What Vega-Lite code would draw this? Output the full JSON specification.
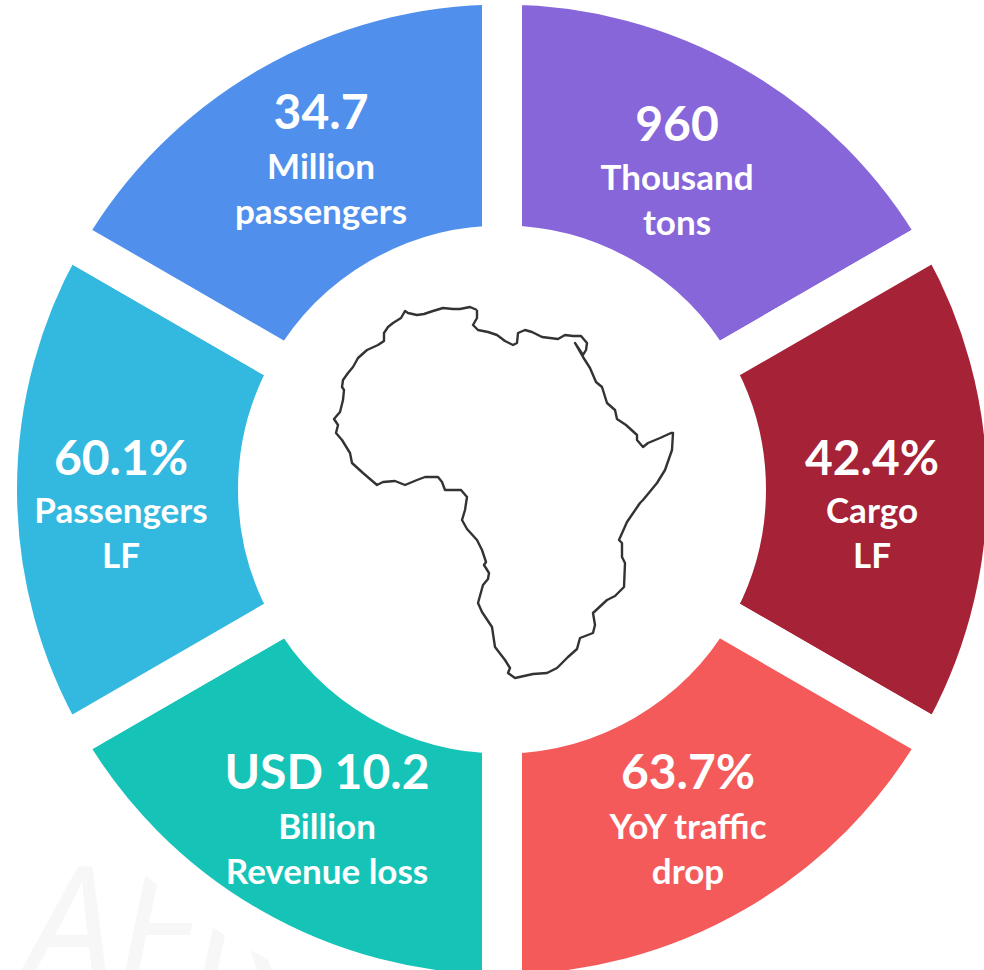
{
"$schema":"https://vega.github.io/schema/vega-lite/v6.json",
"width":984,"height":970,"padding":0,"autosize":{"type":"none"},
"background":"white",
"view":{"stroke":null},
"config":{"style":{"cell":{"stroke":null}}},
"resolve":{"scale":{"x":"independent","y":"independent"}},
"layer":[
{"data":{"values":[{"mark":"AFRAA"}]},
 "mark":{"type":"text","font":"Open Sans","fontStyle":"italic","fontSize":165,"color":"#f7f7f7","align":"center","baseline":"alphabetic"},
 "encoding":{"text":{"field":"mark"},"x":{"value":248},"y":{"value":985}}},
{"data":{"values":[
 {"n":1,"sector":"Cargo tons","share":1},
 {"n":2,"sector":"Cargo LF","share":1},
 {"n":3,"sector":"Traffic drop","share":1},
 {"n":4,"sector":"Revenue loss","share":1},
 {"n":5,"sector":"Passengers LF","share":1},
 {"n":6,"sector":"Passengers","share":1}]},
 "mark":{"type":"arc","radius":505,"radius2":244,"stroke":"white","strokeWidth":40},
 "encoding":{
  "theta":{"field":"share","type":"quantitative","stack":true,"scale":{"domain":[0,6],"range":[0,6.283185]}},
  "order":{"field":"n"},
  "color":{"field":"sector","type":"nominal","legend":null,"scale":{"domain":["Cargo tons","Cargo LF","Traffic drop","Revenue loss","Passengers LF","Passengers"],"range":["#8766DA","#A62236","#F45A5A","#16C3B7","#33B8E0","#5090EC"]}},
  "x":{"value":502},"y":{"value":489.5}}},
{"data":{"values":[
[477,310],[470,307],[460,309],[453,309],[443,308],[433,311],[424,314],[417,315],[408,313],[405,311],[401,318],[393,323],[388,327],[384,333],[384,341],[378,345],[367,350],[358,358],[353,367],[348,373],[343,380],[342,387],[344,390],[343,400],[340,412],[334,419],[338,425],[336,433],[342,440],[350,453],[352,463],[363,473],[377,485],[383,482],[395,481],[405,485],[417,480],[425,477],[438,477],[442,482],[445,490],[461,490],[467,497],[465,510],[462,520],[467,529],[477,540],[482,550],[486,562],[484,565],[489,573],[488,579],[483,585],[478,603],[482,612],[492,627],[495,647],[505,660],[510,668],[508,673],[515,678],[533,674],[547,673],[557,668],[568,657],[577,649],[580,638],[593,633],[595,625],[593,613],[607,600],[615,596],[624,587],[625,563],[622,557],[622,543],[619,540],[627,522],[640,503],[643,500],[657,483],[665,470],[672,450],[673,433],[671,433],[660,438],[648,443],[643,447],[637,440],[637,435],[626,425],[617,419],[615,410],[607,403],[602,387],[596,382],[590,368],[583,357],[575,343],[583,355],[586,350],[587,343],[581,336],[573,336],[565,335],[558,339],[542,337],[532,332],[525,330],[518,333],[517,343],[513,345],[505,341],[497,335],[488,332],[478,330],[473,325],[477,318],[477,310]
]},
 "transform":[{"window":[{"op":"row_number","as":"i"}]}],
 "mark":{"type":"line","stroke":"#333333","strokeWidth":2.4,"strokeJoin":"round"},
 "encoding":{
  "x":{"field":"0","type":"quantitative","axis":null,"scale":{"domain":[0,984],"nice":false,"zero":false}},
  "y":{"field":"1","type":"quantitative","axis":null,"scale":{"domain":[0,970],"range":[0,970],"nice":false,"zero":false}},
  "order":{"field":"i"}}},
{"data":{"values":[
 {"s":1,"r":1,"kind":"value","t":"960"},{"s":1,"r":2,"kind":"caption","t":"Thousand"},{"s":1,"r":3,"kind":"caption","t":"tons"},
 {"s":2,"r":4,"kind":"value","t":"42.4%"},{"s":2,"r":5,"kind":"caption","t":"Cargo"},{"s":2,"r":6,"kind":"caption","t":"LF"},
 {"s":3,"r":7,"kind":"value","t":"63.7%"},{"s":3,"r":8,"kind":"caption","t":"YoY traffic"},{"s":3,"r":9,"kind":"caption","t":"drop"},
 {"s":4,"r":7,"kind":"value","t":"USD 10.2"},{"s":4,"r":8,"kind":"caption","t":"Billion"},{"s":4,"r":9,"kind":"caption","t":"Revenue loss"},
 {"s":5,"r":4,"kind":"value","t":"60.1%"},{"s":5,"r":5,"kind":"caption","t":"Passengers"},{"s":5,"r":6,"kind":"caption","t":"LF"},
 {"s":6,"r":10,"kind":"value","t":"34.7"},{"s":6,"r":11,"kind":"caption","t":"Million"},{"s":6,"r":12,"kind":"caption","t":"passengers"}]},
 "mark":{"type":"text","font":"Lato","fontWeight":"bold","color":"white","align":"center","baseline":"middle"},
 "encoding":{
  "text":{"field":"t"},
  "x":{"field":"s","type":"quantitative","axis":null,"scale":{"domain":[1,2,3,4,5,6],"range":[677,872,688,327,121,321],"nice":false,"zero":false}},
  "y":{"field":"r","type":"quantitative","axis":null,"scale":{"domain":[1,2,3,4,5,6,7,8,9,10,11,12],"range":[127,179,224,461,512,557,775,828,873,115,168,213],"nice":false,"zero":false}},
  "size":{"field":"kind","type":"nominal","legend":null,"scale":{"type":"ordinal","domain":["value","caption"],"range":[48,35]}}}}
]}
